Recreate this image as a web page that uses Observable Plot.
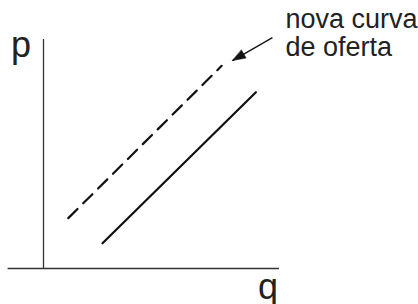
<!DOCTYPE html>
<html>
<head>
<meta charset="utf-8">
<script src="https://cdn.jsdelivr.net/npm/d3@7"></script>
<script src="https://cdn.jsdelivr.net/npm/@observablehq/plot@0.6"></script>
<style>
  html, body { margin: 0; padding: 0; background: #fff; }
  #chart svg { display: block; }
</style>
</head>
<body>
<div id="chart"></div>
<script>
// Data (in chart units: q horizontal, p vertical)
const oferta = [{q: 2.5, p: 1.1}, {q: 9.0, p: 7.7}];
const novaOferta = [{q: 1.05, p: 2.2}, {q: 7.55, p: 8.85}];
const seta = {q1: 9.7, p1: 10.08, q2: 8.01, p2: 9.08};
const eixoX = {q1: -1.5, q2: 10, p: 0};
const eixoY = {q: 0, p1: 0, p2: 10};
const rotulos = [
  {q: -1.38, p: 9.23, text: "p"},
  {q: 9.09, p: -1.34, text: "q"}
];
const nota = [
  {q: 10.25, p: 10.5, text: "nova curva"},
  {q: 10.25, p: 9.26, text: "de oferta"}
];

const ponta = {
  draw(context, l) {
    context.moveTo(0, -l);
    context.lineTo(-4.6, 0);
    context.lineTo(4.6, 0);
    context.closePath();
  }
};

const chart = Plot.plot({
  width: 418,
  height: 304,
  margin: 0,
  x: {domain: [0, 10], range: [43, 279], axis: null},
  y: {domain: [0, 10], range: [268, 39], axis: null},
  style: {fontFamily: "Liberation Sans, Arial, sans-serif", background: "#fff"},
  marks: [
    Plot.ruleY([eixoX], {y: "p", x1: "q1", x2: "q2", stroke: "#333", strokeWidth: 1.3}),
    Plot.ruleX([eixoY], {x: "q", y1: "p1", y2: "p2", stroke: "#333", strokeWidth: 1.3}),
    Plot.line(oferta, {x: "q", y: "p", stroke: "#111", strokeWidth: 2.2}),
    Plot.line(novaOferta, {x: "q", y: "p", stroke: "#111", strokeWidth: 2.2, strokeDasharray: "13,8"}),
    Plot.link([seta], {x1: "q1", y1: "p1", x2: "q2", y2: "p2", stroke: "#111", strokeWidth: 1.3}),
    Plot.vector([seta], {x: "q2", y: "p2", anchor: "end", length: 13, rotate: 240, shape: ponta, fill: "#111", stroke: "#111", strokeWidth: 0.5}),
    Plot.text(rotulos, {x: "q", y: "p", text: "text", textAnchor: "start", fontSize: 36, fill: "#222", lineAnchor: "bottom"}),
    Plot.text(nota, {x: "q", y: "p", text: "text", textAnchor: "start", fontSize: 27, fill: "#222", lineAnchor: "bottom"})
  ]
});
document.getElementById("chart").appendChild(chart);
</script>
</body>
</html>
